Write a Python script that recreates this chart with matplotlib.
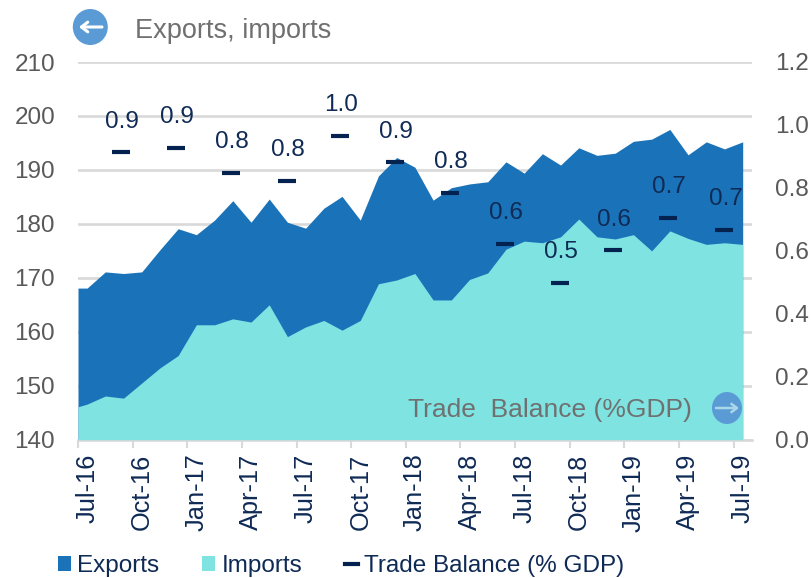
import numpy as np
import matplotlib
matplotlib.use("Agg")
import matplotlib.pyplot as plt
from matplotlib.patches import Patch, Ellipse
from matplotlib.lines import Line2D

plt.rcParams['font.family'] = ['Liberation Sans', 'DejaVu Sans']

# Months counted from Jul-16 = 0; the first entry is the left edge of the Jul-16 slot
months = [-0.5] + list(range(37))
exports = [168.1, 168.1, 171.1, 170.8, 171.1, 175.2, 179.1, 178.0, 180.7, 184.3, 180.3,
           184.6, 180.3, 179.2, 182.9, 185.1, 180.7, 188.9, 192.3, 190.5, 184.4,
           186.7, 187.4, 187.8, 191.5, 189.4, 193.0, 190.9, 194.1, 192.7, 193.1,
           195.3, 195.7, 197.5, 192.8, 195.2, 193.9, 195.2]
imports = [146.1, 146.6, 148.1, 147.7, 150.5, 153.3, 155.6, 161.3, 161.3, 162.4, 161.8,
           165.0, 159.1, 160.9, 162.1, 160.3, 162.1, 168.9, 169.6, 170.8, 165.9,
           165.9, 169.7, 170.9, 175.3, 176.8, 176.5, 177.6, 180.9, 177.6, 177.2,
           178.0, 175.0, 178.7, 177.3, 176.2, 176.5, 176.2]
balance_months = [1.86, 4.88, 7.90, 10.98, 13.89, 16.91, 19.93, 22.96, 25.98, 28.90, 31.92, 35.0]
balance = [0.913, 0.927, 0.848, 0.822, 0.965, 0.881, 0.784, 0.622, 0.498, 0.602, 0.705, 0.667]
tick_labels = ['Jul-16', 'Oct-16', 'Jan-17', 'Apr-17', 'Jul-17', 'Oct-17', 'Jan-18',
               'Apr-18', 'Jul-18', 'Oct-18', 'Jan-19', 'Apr-19', 'Jul-19']
left_ticks = [140, 150, 160, 170, 180, 190, 200, 210]
right_ticks = [0.0, 0.2, 0.4, 0.6, 0.8, 1.0, 1.2]

C_EXP, C_IMP, C_BAL = '#1A73B8', '#7FE3E2', '#03224F'
C_GRID, C_TICK, C_NOTE, C_NAVY = '#D9D9D9', '#595959', '#707070', '#0F2A55'
C_ICON = '#5B9BD5'
W, H = 812, 578

fig = plt.figure(figsize=(W / 100, H / 100), dpi=100, facecolor='white')
ax = fig.add_axes([78 / W, 1 - 439.7 / H, (751.8 - 78) / W, (439.7 - 62) / H])

ax.fill_between(months, 140, exports, color=C_EXP, lw=0, zorder=2)
ax.fill_between(months, 140, imports, color=C_IMP, lw=0, zorder=3)
ax.set_xlim(-0.5, 36.5)
ax.set_ylim(140, 210)
ax.set_yticks(left_ticks)
ax.yaxis.grid(True, color=C_GRID, lw=1.9, zorder=1)
ax.set_axisbelow(True)
ax.tick_params(axis='y', length=0, labelsize=17.5, labelcolor=C_TICK, pad=16.5)

label_pos = np.arange(len(tick_labels)) * 3
ax.set_xticks(label_pos - 0.5)
ax.set_xticklabels([])
ax.set_xticks(label_pos, minor=True)
ax.set_xticklabels(tick_labels, minor=True, rotation=90, ha='center', va='top')
ax.tick_params(axis='x', which='major', length=6, width=1.5, color=C_GRID)
ax.tick_params(axis='x', which='minor', length=0, labelsize=18.3, labelcolor=C_NAVY, pad=10)
for s in ['top', 'left', 'right']:
    ax.spines[s].set_visible(False)
ax.spines['bottom'].set_color(C_GRID)
ax.spines['bottom'].set_linewidth(1.9)

ax2 = ax.twinx()
ax2.patch.set_visible(False)
ax2.set_ylim(0, 1.2)
ax2.set_yticks(right_ticks)
ax2.set_yticklabels([f'{v:.1f}' for v in right_ticks])
ax2.tick_params(axis='y', length=0, labelsize=17.5, labelcolor=C_TICK, pad=16.5)
for s in ax2.spines.values():
    s.set_visible(False)
ax2.plot(balance_months, balance, ls='none', marker='_', ms=13.5, mew=3, color=C_BAL, zorder=5)
for xv, yv in zip(balance_months, balance):
    ax2.annotate(f'{yv:.1f}', (xv, yv), xytext=(0.7, 22), textcoords='offset points',
                 ha='center', va='center', fontsize=17.5, color=C_NAVY, zorder=6)

# Overlay in pixel coordinates for the notes and the arrow icons
ov = fig.add_axes([0, 0, 1, 1], zorder=10)
ov.set_xlim(0, W)
ov.set_ylim(H, 0)
ov.axis('off')
ov.text(135, 31, 'Exports, imports', fontsize=19.5, color=C_NOTE, va='center', ha='left')
ov.text(408, 410.5, 'Trade  Balance (%GDP)', fontsize=19, color=C_NOTE, va='center', ha='left')
ov.add_patch(Ellipse((90.3, 27), 35, 36, color=C_ICON, lw=0))
ov.add_patch(Ellipse((727, 408), 30, 32, color=C_ICON, lw=0))
ov.annotate('', xy=(79, 27), xytext=(102, 27),
            arrowprops=dict(arrowstyle='->,head_width=0.35,head_length=0.45', color='white', lw=2.2, shrinkA=0, shrinkB=0))
ov.annotate('', xy=(739, 408), xytext=(716, 408),
            arrowprops=dict(arrowstyle='->,head_width=0.3,head_length=0.4', color='#A9D6E8', lw=1.8, shrinkA=0, shrinkB=0))

handles = [Patch(color=C_EXP, lw=0, label='Exports'),
           Patch(color=C_IMP, lw=0, label='Imports'),
           Line2D([0], [0], color=C_BAL, lw=3, label='Trade Balance (% GDP)')]
fig.legend(handles=handles, loc='lower left', bbox_to_anchor=(58 / W, 1 / H), ncol=3, frameon=False,
           fontsize=17.5, labelcolor=C_NAVY, handlelength=0.55, handleheight=0.55, handletextpad=0.25,
           columnspacing=1.75, borderpad=0, borderaxespad=0)

fig.savefig('out.png', dpi=100)
